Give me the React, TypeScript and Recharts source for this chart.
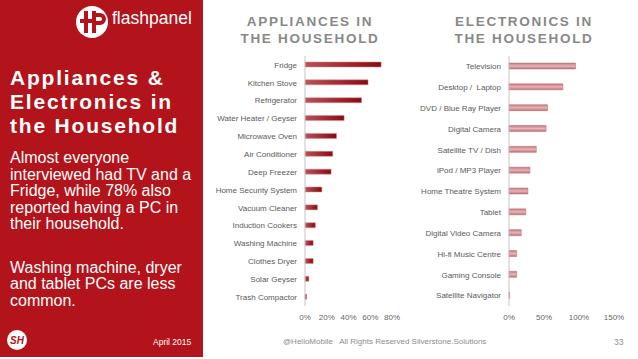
import React from 'react';
import { BarChart, Bar, XAxis, YAxis } from 'recharts';

const applianceNames = [
  'Fridge', 'Kitchen Stove', 'Refrigerator', 'Water Heater / Geyser', 'Microwave Oven',
  'Air Conditioner', 'Deep Freezer', 'Home Security System', 'Vacuum Cleaner',
  'Induction Cookers', 'Washing Machine', 'Clothes Dryer', 'Solar Geyser', 'Trash Compactor',
];
const applianceValues = [70, 58, 52, 36, 29, 25.5, 24, 15.5, 11.5, 9.5, 7.5, 7.5, 3.5, 1.5];
const applianceTicks = [0, 20, 40, 60, 80];

const electronicsNames = [
  'Television', 'Desktop /  Laptop', 'DVD / Blue Ray Player', 'Digital Camera',
  'Satellite TV / Dish', 'iPod / MP3 Player', 'Home Theatre System', 'Tablet',
  'Digital Video Camera', 'Hi-fi Music Centre', 'Gaming Console', 'Satellite Navigator',
];
const electronicsValues = [95, 77, 55, 53, 39, 30, 27, 24, 17.5, 11, 11, 1];
const electronicsTicks = [0, 50, 100, 150];

const applianceData = applianceNames.map((name, i) => ({ name, value: applianceValues[i] }));
const electronicsData = electronicsNames.map((name, i) => ({ name, value: electronicsValues[i] }));

const FONT = '"Liberation Sans", Arial, sans-serif';
const RED = '#B3131A';

const pct = (v: number) => `${v}%`;

const CatTick = (props: any) => {
  const { x, y, payload } = props;
  return (
    <text x={x} y={y} dy="0.35em" textAnchor="end" fontSize={8} fill="#5a5a5a" fontFamily={FONT} style={{ whiteSpace: 'pre' }}>
      {payload.value}
    </text>
  );
};

export default function App() {
  return (
    <div style={{ position: 'absolute', left: 0, top: 0, width: 638, height: 359, background: '#fff', overflow: 'hidden', fontFamily: FONT }}>
      <svg width={0} height={0} style={{ position: 'absolute' }}>
        <defs>
          <linearGradient id="gradL" x1="0" y1="0" x2="1" y2="0">
            <stop offset="0%" stopColor="#b8525a" />
            <stop offset="100%" stopColor="#8a0a12" />
          </linearGradient>
          <linearGradient id="gradR" x1="0" y1="0" x2="0" y2="1">
            <stop offset="0%" stopColor="#c47880" />
            <stop offset="50%" stopColor="#e6b4b7" />
            <stop offset="100%" stopColor="#bf6f77" />
          </linearGradient>
        </defs>
      </svg>

      {/* sidebar */}
      <div style={{ position: 'absolute', left: 0, top: 0, width: 203, height: 357, background: RED }} />

      {/* flashpanel logo */}
      <svg width={40} height={40} style={{ position: 'absolute', left: 72, top: 2 }}>
        <circle cx={20} cy={20} r={16} fill="#fff" />
        <rect x={12} y={9} width={4} height={22} fill={RED} />
        <rect x={8} y={17} width={12} height={4} fill={RED} />
        <rect x={20} y={9} width={4} height={22} fill={RED} />
        <path d="M24 11 h4 a6 6 0 0 1 0 12 h-4 v-4 h4 a2 2 0 0 0 0 -4 h-4z" fill={RED} />
      </svg>
      <div style={{ position: 'absolute', left: 112, top: 8, color: '#fff', fontSize: 17.5, fontFamily: FONT, lineHeight: '20px' }}>flashpanel</div>

      {/* sidebar title */}
      <div style={{ position: 'absolute', left: 10, top: 66, color: '#fff', fontSize: 21, fontWeight: 'bold', lineHeight: '24px', letterSpacing: 1.8, whiteSpace: 'nowrap' }}>
        Appliances &amp;<br />Electronics in<br />the Household
      </div>
      <div style={{ position: 'absolute', left: 10, top: 150, color: '#fff', fontSize: 16, lineHeight: '16.5px', whiteSpace: 'nowrap' }}>
        Almost everyone<br />interviewed had TV and a<br />Fridge, while 78% also<br />reported having a PC in<br />their household.
      </div>
      <div style={{ position: 'absolute', left: 10, top: 259.5, color: '#fff', fontSize: 16, lineHeight: '16.5px', whiteSpace: 'nowrap' }}>
        Washing machine, dryer<br />and tablet PCs are less<br />common.
      </div>

      {/* footer */}
      <svg width={24} height={24} style={{ position: 'absolute', left: 5, top: 328 }}>
        <circle cx={12} cy={12} r={10} fill="#fff" />
        <text x={12} y={16} textAnchor="middle" fontSize={10} fontWeight="bold" fontStyle="italic" fill={RED} fontFamily={FONT}>SH</text>
      </svg>
      <div style={{ position: 'absolute', left: 153, top: 337, color: '#fff', fontSize: 8.5, lineHeight: '10px', whiteSpace: 'nowrap' }}>April 2015</div>
      <div style={{ position: 'absolute', left: 283, top: 337, color: '#8c8c8c', fontSize: 8, lineHeight: '10px', whiteSpace: 'pre' }}>@HelloMobile   All Rights Reserved Silverstone.Solutions</div>
      <div style={{ position: 'absolute', left: 614, top: 337, color: '#8c8c8c', fontSize: 8.5, lineHeight: '10px' }}>33</div>

      {/* chart titles */}
      <div style={{ position: 'absolute', left: 230, width: 160, top: 14, textAlign: 'center', color: '#888', fontSize: 13.5, fontWeight: 'bold', lineHeight: '16.5px', letterSpacing: 1.7, whiteSpace: 'nowrap' }}>
        APPLIANCES IN<br />THE HOUSEHOLD
      </div>
      <div style={{ position: 'absolute', left: 444, width: 160, top: 14, textAlign: 'center', color: '#888', fontSize: 13.5, fontWeight: 'bold', lineHeight: '16.5px', letterSpacing: 1.7, whiteSpace: 'nowrap' }}>
        ELECTRONICS IN<br />THE HOUSEHOLD
      </div>

      {/* left chart */}
      <div style={{ position: 'absolute', left: 203, top: 50 }}>
        <BarChart width={212} height={285} data={applianceData} layout="vertical" margin={{ top: 6, right: 23, bottom: 0, left: 0 }}>
          <XAxis type="number" domain={[0, 80]} ticks={applianceTicks} tickFormatter={pct} axisLine={false} tickLine={false} height={29}
            tick={{ fontSize: 8, fill: '#666', fontFamily: FONT }} interval={0} />
          <YAxis type="category" dataKey="name" width={102} interval={0} tickLine={false}
            axisLine={{ stroke: '#c4c4c4' }} tick={<CatTick />} />
          <Bar dataKey="value" fill="url(#gradL)" stroke="#d98a8e" strokeWidth={0.5} barSize={5} isAnimationActive={false} />
        </BarChart>
      </div>

      {/* right chart */}
      <div style={{ position: 'absolute', left: 415, top: 50 }}>
        <BarChart width={215} height={285} data={electronicsData} layout="vertical" margin={{ top: 6, right: 16, bottom: 0, left: 0 }}>
          <XAxis type="number" domain={[0, 150]} ticks={electronicsTicks} tickFormatter={pct} axisLine={false} tickLine={false} height={29}
            tick={{ fontSize: 8, fill: '#666', fontFamily: FONT }} interval={0} />
          <YAxis type="category" dataKey="name" width={94} interval={0} tickLine={false}
            axisLine={{ stroke: '#c4c4c4' }} tick={<CatTick />} />
          <Bar dataKey="value" fill="url(#gradR)" stroke="#b36a72" strokeWidth={0.5} barSize={6} isAnimationActive={false} />
        </BarChart>
      </div>
    </div>
  );
}
